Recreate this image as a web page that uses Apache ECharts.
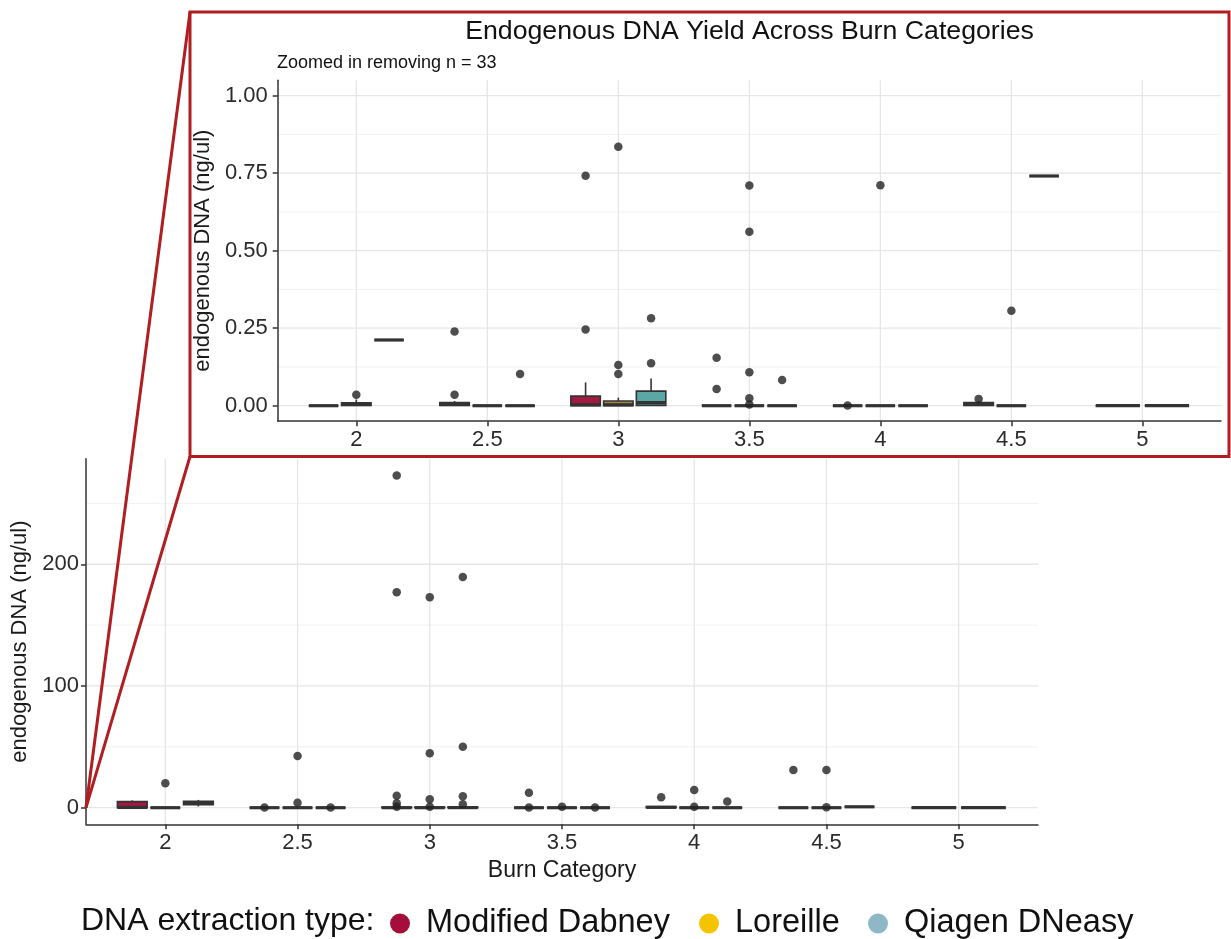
<!DOCTYPE html>
<html><head><meta charset="utf-8">
<script src="https://cdn.jsdelivr.net/npm/echarts@6/dist/echarts.min.js"></script>
<style>html,body{margin:0;padding:0;background:#fff}#c{width:1231px;height:939px}</style>
</head><body><div id="c"></div>
<script>
// ---------------- data ----------------
const categories = ['2', '2.5', '3', '3.5', '4', '4.5', '5'];
const extractionTypes = ['Modified Dabney', 'Loreille', 'Qiagen DNeasy'];

// Zoomed panel (values > 1 removed): [lowerWhisker, q1, median, q3, upperWhisker]; null = no samples
const zoomDabneyStats = [[0,0,0,0,0],[0,0.001,0.004,0.01,0.015],[0,0,0.003,0.031,0.075],[0,0,0,0,0],[0,0,0,0,0],[0,0.001,0.004,0.01,0.015],[0,0,0,0,0]];
const zoomLoreilleStats = [[0,0.001,0.004,0.009,0.02],[0,0,0,0,0],[0,0,0.003,0.015,0.026],[0,0,0,0,0],[0,0,0,0,0],[0,0,0,0,0],[0,0,0,0,0]];
const zoomQiagenStats = [[0.212,0.212,0.212,0.212,0.212],[0,0,0,0,0],[0,0.001,0.01,0.047,0.088],[0,0,0,0,0],[0,0,0,0,0],[0.741,0.741,0.741,0.741,0.741],null];
// outliers: [categoryIndex, value]
const zoomDabneyOutliers = [[1,0.239],[1,0.035],[2,0.742],[2,0.246],[3,0.155],[3,0.054],[4,0.001],[5,0.022]];
const zoomLoreilleOutliers = [[0,0.035],[2,0.835],[2,0.131],[2,0.102],[3,0.71],[3,0.561],[3,0.108],[3,0.024],[3,0.004],[4,0.711],[5,0.306]];
const zoomQiagenOutliers = [[1,0.102],[2,0.282],[2,0.137],[3,0.083]];

// Full panel
const fullDabneyStats = [[0,0,0.2,5,6],[0,0,0,0,0],[0,0,0,0.4,1],[0,0,0,0,0],[0,0,0.3,0.9,1.4],[0,0,0,0,0],[0,0,0,0,0]];
const fullLoreilleStats = [[0,0,0,0,0],[0,0,0,0,0],[0,0,0,0.5,1],[0,0,0,0,0],[0,0,0,0,0],[0,0,0,0,0],[0,0,0,0,0]];
const fullQiagenStats = [[1,2.5,4,5.3,6.4],[0,0,0,0,0],[0,0,0.05,0.6,1.2],[0,0,0,0,0],[0,0,0,0,0],[0.741,0.741,0.741,0.741,0.741],null];
const fullDabneyOutliers = [[1,0.239],[2,273],[2,177],[2,9.9],[2,3.6],[2,0.742],[3,12.3],[3,0.155],[4,8.5],[5,31]];
const fullLoreilleOutliers = [[0,20],[1,42.5],[1,4.1],[2,173],[2,44.7],[2,6.9],[2,0.835],[3,0.71],[4,14.5],[4,0.711],[5,31],[5,0.306]];
const fullQiagenOutliers = [[1,0.102],[2,189.6],[2,50.1],[2,9.4],[2,2.8],[3,0.083],[4,5]];

// axis ticks
const zoomYTicks = [0, 0.25, 0.5, 0.75, 1];
const zoomYMinor = [0.125, 0.375, 0.625, 0.875];
const fullYTicks = [0, 100, 200];
const fullYMinor = [50, 150, 250];

// ---------------- styles ----------------
const FONT = 'Liberation Sans, Arial, Helvetica, sans-serif';
const boxFill = ['#a3193f', '#a08a3a', '#5aa7a6'];
const legendColors = ['#a50d3c', '#f5c400', '#8fb8c6'];
const legendLefts = [385, 694, 863];
const catIdx = categories.map((_, i) => i);

function dodge(statsList) {
  return categories.map((_, c) => {
    const present = [];
    statsList.forEach((s, g) => { if (s[c]) present.push(g); });
    const slot = 0.75 / present.length;
    const res = {};
    present.forEach((g, k) => { res[g] = { x: c - 0.375 + (k + 0.5) * slot, w: slot * 0.9 }; });
    return res;
  });
}

function renderBox(params, api) {
  const x = api.value(0), w = api.value(6);
  const lo = api.coord([x, api.value(1)]);
  const q1 = api.coord([x, api.value(2)]);
  const md = api.coord([x, api.value(3)]);
  const q3 = api.coord([x, api.value(4)]);
  const hi = api.coord([x, api.value(5)]);
  const half = api.size([w, 0])[0] / 2;
  const fill = api.visual('color');
  const st = { stroke: '#333', lineWidth: 1.6 };
  return { type: 'group', children: [
    { type: 'line', shape: { x1: hi[0], y1: hi[1], x2: q3[0], y2: q3[1] }, style: st },
    { type: 'line', shape: { x1: lo[0], y1: lo[1], x2: q1[0], y2: q1[1] }, style: st },
    { type: 'rect', shape: { x: q3[0] - half, y: q3[1], width: half * 2, height: q1[1] - q3[1] }, style: { fill: fill, stroke: '#333', lineWidth: 1.6 } },
    { type: 'line', shape: { x1: md[0] - half, y1: md[1], x2: md[0] + half, y2: md[1] }, style: { stroke: '#333', lineWidth: 3.2 } }
  ]};
}
function renderH(params, api) {
  const cs = params.coordSys;
  const y = api.coord([0, api.value(0)])[1];
  const major = api.value(1) === 1;
  return { type: 'line', shape: { x1: cs.x, y1: y, x2: cs.x + cs.width, y2: y },
    style: { stroke: major ? '#e6e6e6' : '#efefef', lineWidth: major ? 1.3 : 0.8 } };
}
function renderV(params, api) {
  const cs = params.coordSys;
  const x = api.coord([api.value(0), 0])[0];
  return { type: 'line', shape: { x1: x, y1: cs.y, x2: x, y2: cs.y + cs.height },
    style: { stroke: '#e6e6e6', lineWidth: 1.3 } };
}

function panelSeries(idx, statsList, outList, majors, minors) {
  const pos = dodge(statsList);
  const s = [];
  s.push({ type: 'custom', xAxisIndex: idx, yAxisIndex: idx, z: 0, silent: true, renderItem: renderH,
    data: majors.map(v => [v, 1]).concat(minors.map(v => [v, 0])) });
  s.push({ type: 'custom', xAxisIndex: idx, yAxisIndex: idx, z: 0, silent: true, renderItem: renderV,
    data: catIdx.map(i => [i, 0]) });
  statsList.forEach((stats, g) => {
    const data = [];
    stats.forEach((st, c) => { if (st) data.push([pos[c][g].x].concat(st).concat([pos[c][g].w])); });
    s.push({ type: 'custom', name: extractionTypes[g], xAxisIndex: idx, yAxisIndex: idx, z: 2,
      itemStyle: { color: boxFill[g] }, renderItem: renderBox, data: data,
      encode: { x: 0, y: [1, 2, 3, 4, 5] } });
  });
  outList.forEach((outs, g) => {
    s.push({ type: 'scatter', name: 'outliers-' + idx + '-' + g, xAxisIndex: idx, yAxisIndex: idx, z: 3,
      symbolSize: 8.5, itemStyle: { color: '#222' },
      data: outs.map(o => [pos[o[0]][g].x, o[1]]) });
  });
  return s;
}

function xAxisCfg(gridIndex, extra) {
  return Object.assign({
    gridIndex, type: 'value', min: -0.6, max: 6.6,
    axisLine: { show: true, onZero: false, lineStyle: { color: '#333', width: 1.5 } },
    axisTick: { show: true, customValues: catIdx, length: 5, lineStyle: { color: '#333', width: 1.5 } },
    axisLabel: { customValues: catIdx, formatter: v => categories[Math.round(v)], fontSize: 22, color: '#2b2b2b', margin: 8, fontFamily: FONT },
    splitLine: { show: false }
  }, extra || {});
}

const chart = echarts.init(document.getElementById('c'), null, { renderer: 'canvas' });
const option = {
  animation: false,
  backgroundColor: '#fff',
  textStyle: { fontFamily: FONT },
  grid: [
    { left: 277.7, top: 80.2, width: 943.3, height: 341 },
    { left: 86, top: 458.8, width: 952, height: 365.5 }
  ],
  xAxis: [
    xAxisCfg(0),
    xAxisCfg(1, { name: 'Burn Category', nameLocation: 'middle', nameGap: 35,
      nameTextStyle: { fontSize: 23, color: '#1a1a1a', fontFamily: FONT } })
  ],
  yAxis: [
    { gridIndex: 0, type: 'value', min: -0.05, max: 1.05,
      name: 'endogenous DNA (ng/ul)', nameLocation: 'middle', nameGap: 47,
      nameTextStyle: { fontSize: 22, color: '#1a1a1a', fontFamily: FONT },
      axisLine: { show: true, onZero: false, lineStyle: { color: '#333', width: 1.5 } },
      axisTick: { show: true, customValues: zoomYTicks, length: 5, lineStyle: { color: '#333', width: 1.5 } },
      axisLabel: { customValues: zoomYTicks, formatter: v => v.toFixed(2), fontSize: 22, color: '#2b2b2b', margin: 10, fontFamily: FONT },
      splitLine: { show: false } },
    { gridIndex: 1, type: 'value', min: -13.65, max: 286.65,
      name: 'endogenous DNA (ng/ul)', nameLocation: 'middle', nameGap: 39,
      nameTextStyle: { fontSize: 22, color: '#1a1a1a', fontFamily: FONT },
      axisLine: { show: true, onZero: false, lineStyle: { color: '#333', width: 1.5 } },
      axisTick: { show: true, customValues: fullYTicks, length: 5, lineStyle: { color: '#333', width: 1.5 } },
      axisLabel: { customValues: fullYTicks, formatter: v => String(Math.round(v)), fontSize: 22, color: '#2b2b2b', margin: 7, fontFamily: FONT },
      splitLine: { show: false } }
  ],
  legend: extractionTypes.map((n, i) => ({
    left: legendLefts[i], top: 902, icon: 'circle', itemWidth: 42, itemHeight: 20,
    selectedMode: false, textStyle: { fontSize: 32.5, color: '#111', fontFamily: FONT },
    data: [{ name: n, itemStyle: { color: legendColors[i] } }]
  })),
  series: [].concat(
    panelSeries(0, [zoomDabneyStats, zoomLoreilleStats, zoomQiagenStats], [zoomDabneyOutliers, zoomLoreilleOutliers, zoomQiagenOutliers], zoomYTicks, zoomYMinor),
    panelSeries(1, [fullDabneyStats, fullLoreilleStats, fullQiagenStats], [fullDabneyOutliers, fullLoreilleOutliers, fullQiagenOutliers], fullYTicks, fullYMinor)
  )
};
chart.setOption(option);

// zoom annotation: frame around the zoomed panel and lines from the full panel's origin
const origin = chart.convertToPixel({ xAxisIndex: 1, yAxisIndex: 1 }, [-0.6, 0]);
const RED = '#b01e22';
chart.setOption({
  graphic: [
    { type: 'text', x: 749.5, y: 32, z: 10, style: { text: 'Endogenous DNA Yield Across Burn Categories', font: '26.7px ' + FONT, fill: '#111', textAlign: 'center', textVerticalAlign: 'middle' } },
    { type: 'text', x: 277, y: 63, z: 10, style: { text: 'Zoomed in removing n = 33', font: '18px ' + FONT, fill: '#111', textAlign: 'left', textVerticalAlign: 'middle' } },
    { type: 'text', x: 81, y: 921, z: 10, style: { text: 'DNA extraction type:', font: '32px ' + FONT, fill: '#111', textAlign: 'left', textVerticalAlign: 'middle' } },
    { type: 'rect', z: 20, shape: { x: 190, y: 12, width: 1039, height: 444.5 }, style: { fill: 'none', stroke: RED, lineWidth: 3 } },
    { type: 'line', z: 20, shape: { x1: origin[0], y1: origin[1], x2: 190, y2: 12 }, style: { stroke: RED, lineWidth: 3 } },
    { type: 'line', z: 20, shape: { x1: origin[0], y1: origin[1], x2: 190, y2: 456.5 }, style: { stroke: RED, lineWidth: 3 } }
  ]
});
</script>
</body></html>
